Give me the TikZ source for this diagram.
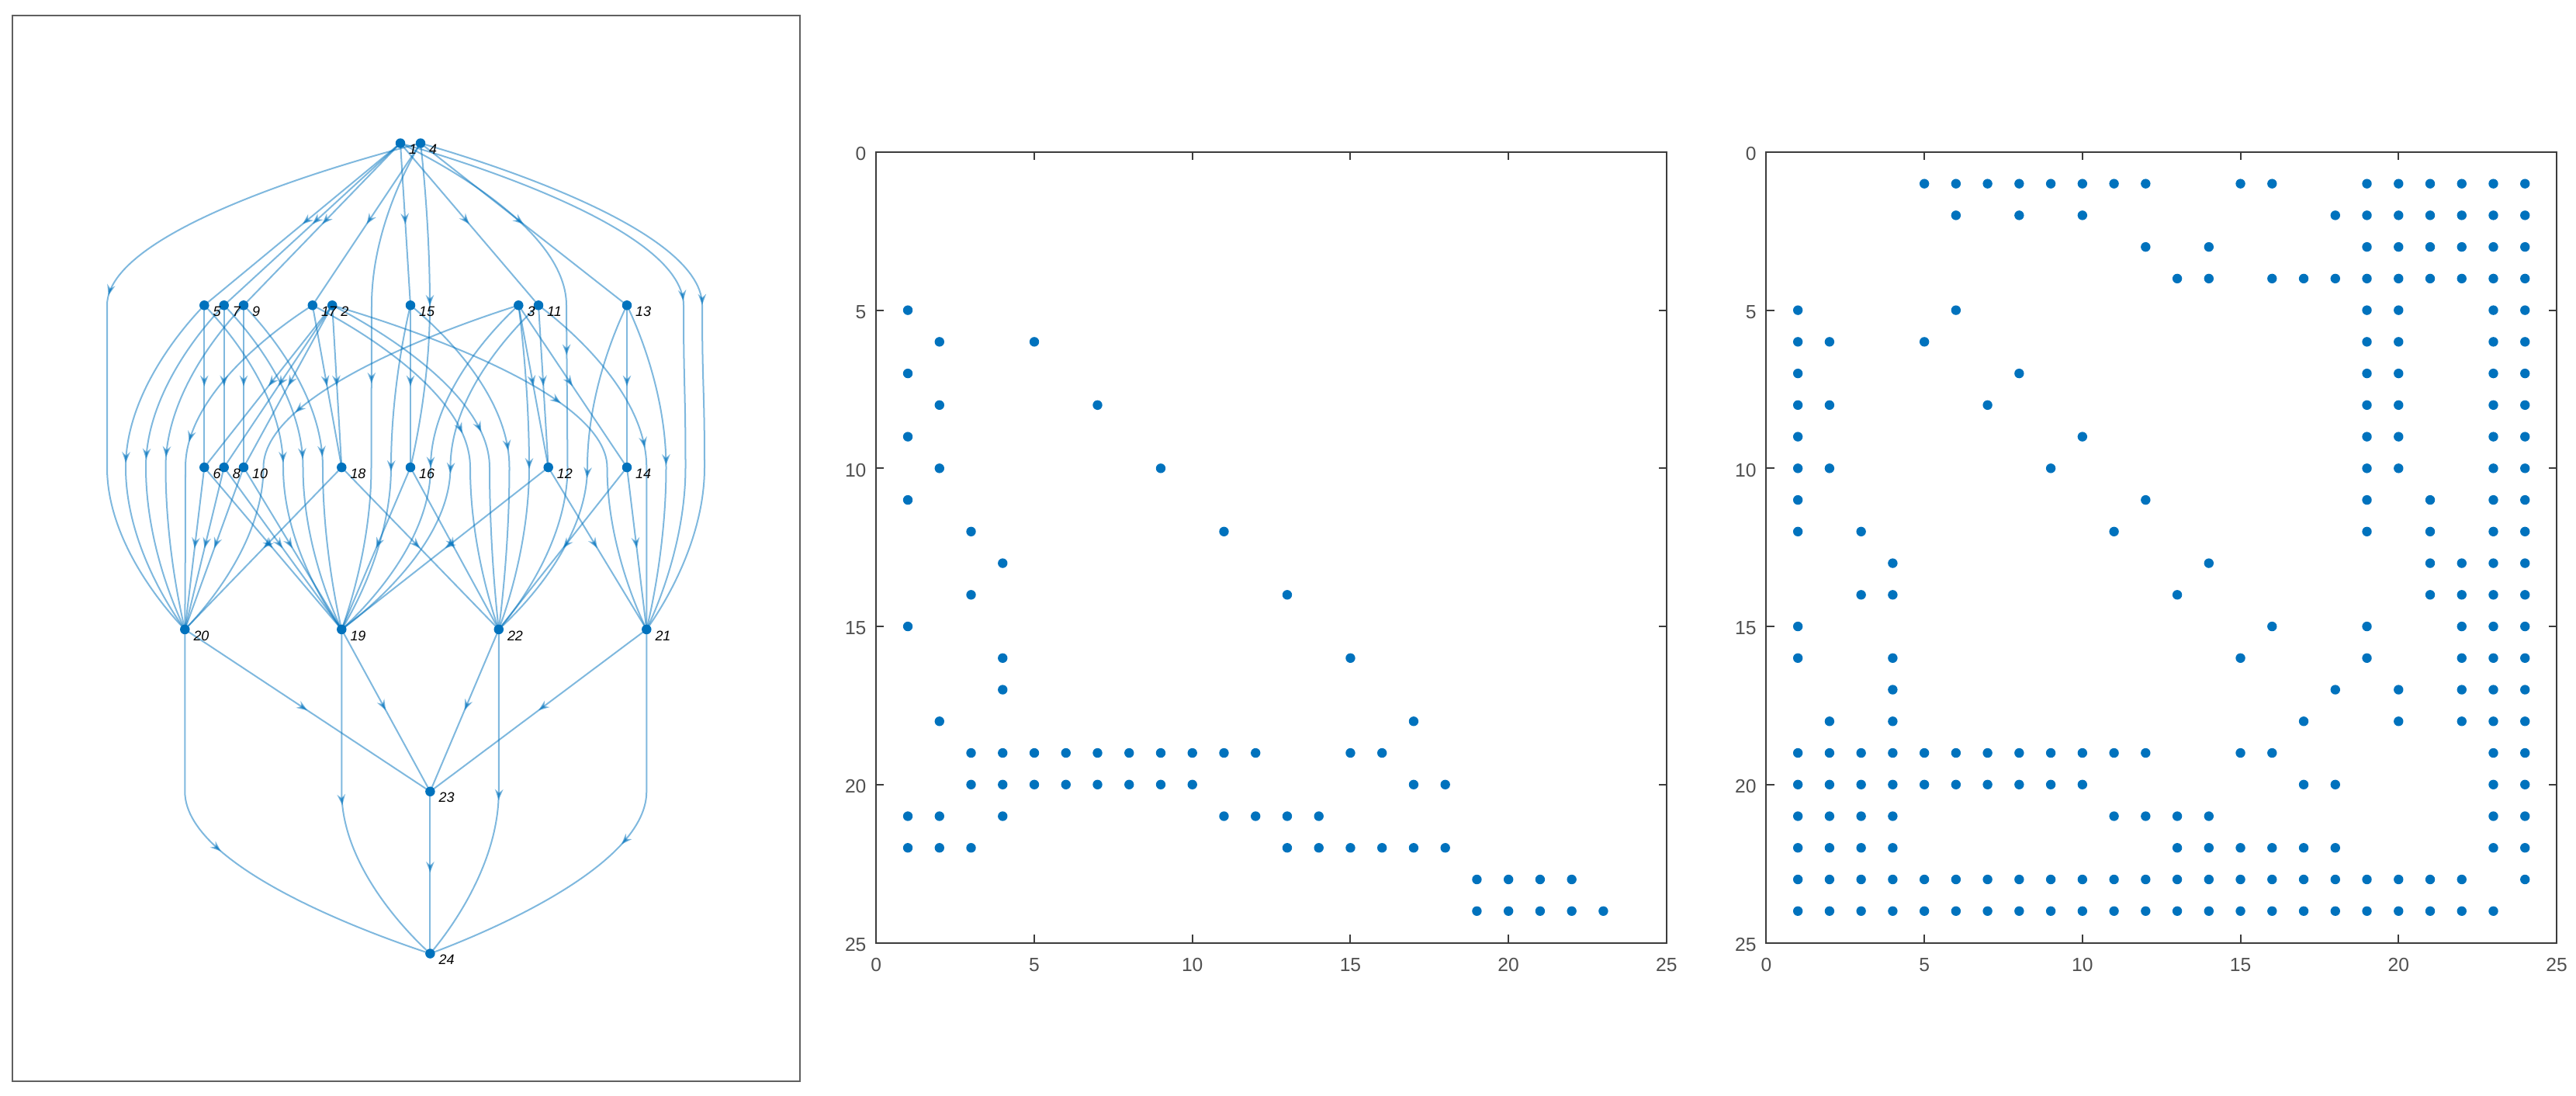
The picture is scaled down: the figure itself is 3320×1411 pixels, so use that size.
\documentclass[tikz,border=0pt]{standalone}
\usepackage{fontspec}
\setmainfont{Liberation Sans}
\usetikzlibrary{arrows.meta,decorations.markings,calc}
\definecolor{mblue}{RGB}{0,114,189}
\definecolor{axgray}{RGB}{60,60,60}
\definecolor{lblgray}{RGB}{80,80,80}
\definecolor{boxgray}{RGB}{95,95,95}
\pgfdeclarelayer{bg}
\pgfsetlayers{bg,main}
\tikzset{
  gedge/.style={draw=mblue, line width=0.02cm, opacity=0.5, postaction={decorate},
    decoration={markings, mark=at position 0.5 with {\arrow{Stealth[length=0.14cm,width=0.105cm,inset=0.045cm]}}}},
  rd/.style={to path={.. controls ($(\tikztostart)!0.12!($(\tikztotarget)+(0,-104.4)$)$) and ($(\tikztotarget)+(0,-104.4)$) .. (\tikztotarget)}},
  dd/.style={to path={.. controls ($(\tikztostart)+(0,104.4)$) and ($(\tikztotarget)+(0,-104.4)$) .. (\tikztotarget)}},
  dr/.style={to path={.. controls ($(\tikztostart)+(0,104.4)$) and ($(\tikztotarget)!0.12!($(\tikztostart)+(0,104.4)$)$) .. (\tikztotarget)}},
  gdot/.style={circle, fill=mblue, draw=none, inner sep=0pt, minimum size=0.125cm},
  glabel/.style={anchor=west, inner sep=0pt, text=black, font=\fontsize{5.1}{6}\selectfont\itshape},
  axbox/.style={draw=axgray, line width=0.02cm},
  ticklbl/.style={inner sep=0pt, text=lblgray, font=\fontsize{7}{8.4}\selectfont},
  spydot/.style={fill=mblue}
}
\begin{document}
\begin{tikzpicture}[x=0.01cm, y=-0.01cm]
\useasboundingbox (0,0) rectangle (3320,1411);

% ---------------- left panel: layered graph ----------------
\draw[draw=boxgray, line width=0.02cm] (16,20) rectangle (1031,1393);

\node[gdot] (n1) at (516,184.5) {};
\node[gdot] (n4) at (542,184.5) {};
\node[gdot] (n5) at (263.3,393.3) {};
\node[gdot] (n7) at (288.7,393.3) {};
\node[gdot] (n9) at (314,393.3) {};
\node[gdot] (n17) at (402.8,393.3) {};
\node[gdot] (n2) at (428.2,393.3) {};
\node[gdot] (n15) at (529,393.3) {};
\node[gdot] (n3) at (668.3,393.3) {};
\node[gdot] (n11) at (694,393.3) {};
\node[gdot] (n13) at (808,393.3) {};
\node[gdot] (n6) at (263.3,602.1) {};
\node[gdot] (n8) at (288.7,602.1) {};
\node[gdot] (n10) at (314,602.1) {};
\node[gdot] (n18) at (440.3,602.1) {};
\node[gdot] (n16) at (529,602.1) {};
\node[gdot] (n12) at (706.7,602.1) {};
\node[gdot] (n14) at (808,602.1) {};
\node[gdot] (n20) at (238.3,810.9) {};
\node[gdot] (n19) at (440.3,810.9) {};
\node[gdot] (n22) at (642.8,810.9) {};
\node[gdot] (n21) at (833.3,810.9) {};
\node[gdot] (n23) at (554.4,1019.7) {};
\node[gdot] (n24) at (554.4,1228.5) {};

\foreach \i in {1,...,24} {
  \node[glabel] (t\i) at ($(n\i.center)+(10.5,8)$) {\i};
}

% bend points of long edges
\coordinate (a4x20) at (138,393.3);
\coordinate (a4x19) at (479,393.3);
\coordinate (a4x16) at (554,393.3);
\coordinate (a1x22) at (730,393.3);
\coordinate (a1x21) at (881,393.3);
\coordinate (a4x21) at (905,393.3);
\coordinate (b4x20) at (138,602.1);
\coordinate (b5x20) at (162,602.1);
\coordinate (b7x20) at (188,602.1);
\coordinate (b9x20) at (213.5,602.1);
\coordinate (b17x20) at (239,602.1);
\coordinate (b3x20) at (339.5,602.1);
\coordinate (b5x19) at (365,602.1);
\coordinate (b7x19) at (390.5,602.1);
\coordinate (b9x19) at (416,602.1);
\coordinate (b4x19) at (478.5,602.1);
\coordinate (b15x19) at (504,602.1);
\coordinate (b3x19) at (555,602.1);
\coordinate (b11x19) at (580.5,602.1);
\coordinate (b17x22) at (606,602.1);
\coordinate (b2x22) at (631,602.1);
\coordinate (b15x22) at (656.5,602.1);
\coordinate (b3x22) at (682,602.1);
\coordinate (b1x22) at (731.5,602.1);
\coordinate (b13x22) at (757,602.1);
\coordinate (b2x21) at (782.5,602.1);
\coordinate (b11x21) at (833.3,602.1);
\coordinate (b13x21) at (858.5,602.1);
\coordinate (b1x21) at (883.5,602.1);
\coordinate (b4x21) at (908,602.1);
\coordinate (c20) at (238.3,1019.7);
\coordinate (c19) at (440.3,1019.7);
\coordinate (c22) at (642.8,1019.7);
\coordinate (c21) at (833.3,1019.7);

\begin{pgfonlayer}{bg}
  % edges between adjacent layers
  \foreach \s/\t in {1/5,1/7,1/9,1/11,1/15,4/13,4/17,
                     2/6,5/6,2/8,7/8,2/10,9/10,3/12,11/12,3/14,13/14,15/16,2/18,17/18,
                     6/19,6/20,8/19,8/20,10/19,10/20,12/19,12/21,14/21,14/22,16/19,16/22,18/20,18/22,
                     19/23,20/23,21/23,22/23,23/24} {
    \draw[gedge] (n\s.center) -- (n\t.center);
  }
  % edges spanning two layers (layer 2 -> layer 4)
  \foreach \s/\t in {5/20,7/20,9/20,17/20,3/20,5/19,7/19,9/19,15/19,3/19,11/19,
                     17/22,2/22,15/22,3/22,13/22,2/21,11/21,13/21} {
    \draw[gedge] (n\s.center) to[rd] (b\s x\t) to[dr] (n\t.center);
  }
  % edges spanning three layers
  \draw[gedge] (n4.center) to[rd] (a4x20) to[dd] (b4x20) to[dr] (n20.center);
  \draw[gedge] (n4.center) to[rd] (a4x19) to[dd] (b4x19) to[dr] (n19.center);
  \draw[gedge] (n1.center) to[rd] (a1x22) to[dd] (b1x22) to[dr] (n22.center);
  \draw[gedge] (n1.center) to[rd] (a1x21) to[dd] (b1x21) to[dr] (n21.center);
  \draw[gedge] (n4.center) to[rd] (a4x21) to[dd] (b4x21) to[dr] (n21.center);
  % 4 -> 16
  \draw[gedge] (n4.center) to[rd] (a4x16) to[dr] (n16.center);
  % layer 4 -> 24
  \foreach \s in {20,19,22,21} {
    \draw[gedge] (n\s.center) -- (c\s) to[dr] (n24.center);
  }
\end{pgfonlayer}

% ---------------- middle panel ----------------
\begin{scope}[shift={(1129.3,195.9)}, x=0.4072cm, y=-0.4072cm]
  \foreach \r/\cs in {5/{1},6/{2,5},7/{1},8/{2,7},9/{1},10/{2,9},11/{1},12/{3,11},13/{4},
      14/{3,13},15/{1},16/{4,15},17/{4},18/{2,17},
      19/{3,4,5,6,7,8,9,10,11,12,15,16},20/{3,4,5,6,7,8,9,10,17,18},
      21/{1,2,4,11,12,13,14},22/{1,2,3,13,14,15,16,17,18},
      23/{19,20,21,22},24/{19,20,21,22,23}} {
    \foreach \c in \cs { \fill[spydot] (\c,\r) circle (0.152); }
  }
  \draw[axbox] (0,0) rectangle (25,25);
  \foreach \t in {5,10,15,20} {
    \draw[axbox] (\t,0) -- (\t,0.25) (\t,25) -- (\t,24.75) (0,\t) -- (0.25,\t) (25,\t) -- (24.75,\t);
  }
  \foreach \t in {0,5,10,15,20,25} {
    \node[ticklbl] (mx\t) at (\t,25.7) {\t};
    \node[ticklbl,anchor=east] (my\t) at (-0.3,\t+0.06) {\t};
  }
\end{scope}

% ---------------- right panel ----------------
\begin{scope}[shift={(2276.4,195.9)}, x=0.4072cm, y=-0.4072cm]
  \foreach \r/\cs in {
      1/{5,6,7,8,9,10,11,12,15,16,19,20,21,22,23,24},
      2/{6,8,10,18,19,20,21,22,23,24},
      3/{12,14,19,20,21,22,23,24},
      4/{13,14,16,17,18,19,20,21,22,23,24},
      5/{1,6,19,20,23,24},
      6/{1,2,5,19,20,23,24},
      7/{1,8,19,20,23,24},
      8/{1,2,7,19,20,23,24},
      9/{1,10,19,20,23,24},
      10/{1,2,9,19,20,23,24},
      11/{1,12,19,21,23,24},
      12/{1,3,11,19,21,23,24},
      13/{4,14,21,22,23,24},
      14/{3,4,13,21,22,23,24},
      15/{1,16,19,22,23,24},
      16/{1,4,15,19,22,23,24},
      17/{4,18,20,22,23,24},
      18/{2,4,17,20,22,23,24},
      19/{1,2,3,4,5,6,7,8,9,10,11,12,15,16,23,24},
      20/{1,2,3,4,5,6,7,8,9,10,17,18,23,24},
      21/{1,2,3,4,11,12,13,14,23,24},
      22/{1,2,3,4,13,14,15,16,17,18,23,24},
      23/{1,2,3,4,5,6,7,8,9,10,11,12,13,14,15,16,17,18,19,20,21,22,24},
      24/{1,2,3,4,5,6,7,8,9,10,11,12,13,14,15,16,17,18,19,20,21,22,23}} {
    \foreach \c in \cs { \fill[spydot] (\c,\r) circle (0.152); }
  }
  \draw[axbox] (0,0) rectangle (25,25);
  \foreach \t in {5,10,15,20} {
    \draw[axbox] (\t,0) -- (\t,0.25) (\t,25) -- (\t,24.75) (0,\t) -- (0.25,\t) (25,\t) -- (24.75,\t);
  }
  \foreach \t in {0,5,10,15,20,25} {
    \node[ticklbl] (rx\t) at (\t,25.7) {\t};
    \node[ticklbl,anchor=east] (ry\t) at (-0.3,\t+0.06) {\t};
  }
\end{scope}
\end{tikzpicture}
\end{document}
